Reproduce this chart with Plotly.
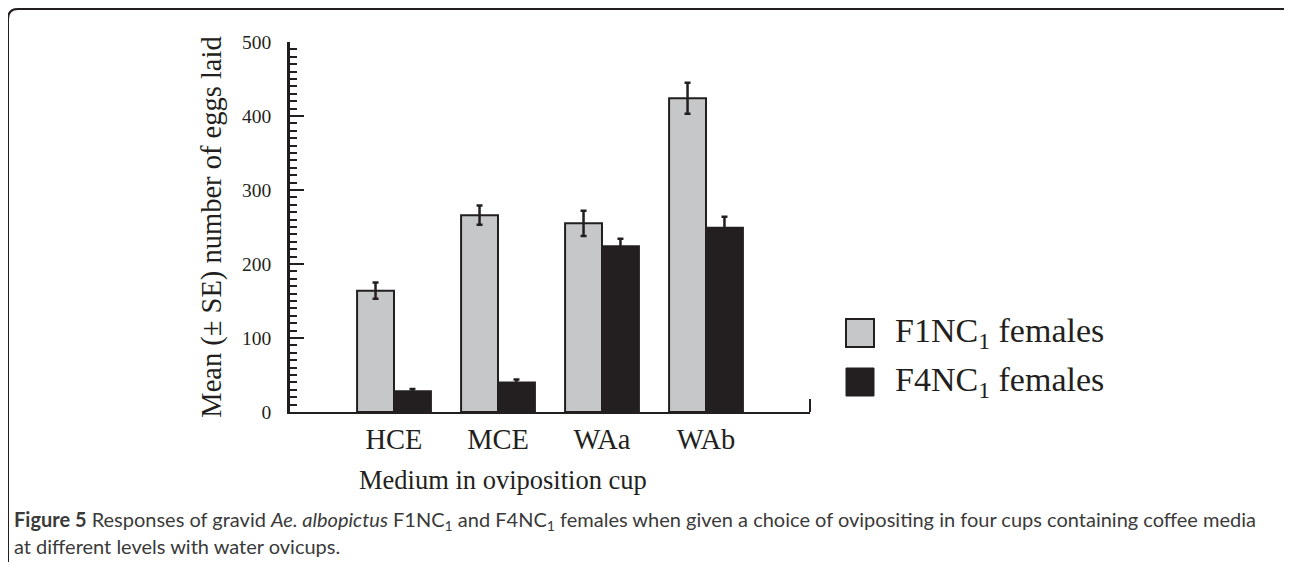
import plotly.graph_objects as go

# ---- data ----
categories = ["HCE", "MCE", "WAa", "WAb"]
f1_means = [164, 266, 255, 424]
f1_se = [11, 13, 17, 21]
f4_means = [28, 40, 224, 249]
f4_se = [3, 4, 10, 15]
series_names = ["F1NC<sub>1</sub> females", "F4NC<sub>1</sub> females"]
y_ticks = [0, 100, 200, 300, 400, 500]

# ---- geometry (page pixels; the page body adds an 8px margin) ----
OFF = 8
W, H = 1292 - OFF, 562 - OFF
L, R, T, B = 290, 810, 42, 412   # plot area in page pixels


def px(x):
    return (x - L) / (R - L)


def py(y):
    return (B - y) / (B - T)


INK = "#231f20"
GRAY = "#c6c7c9"
SERIF = "Liberation Serif"
SANS = "Lato"

fig = go.Figure()
fig.add_trace(go.Bar(
    x=categories, y=f1_means, name=series_names[0],
    marker=dict(color=GRAY, line=dict(color=INK, width=2)),
    error_y=dict(type="data", array=f1_se, color=INK, thickness=2.5, width=3),
    showlegend=False,
))
fig.add_trace(go.Bar(
    x=categories, y=f4_means, name=series_names[1],
    marker=dict(color=INK, line=dict(color=INK, width=2)),
    error_y=dict(type="data", array=f4_se, color=INK, thickness=2.5, width=3),
    showlegend=False,
))

fig.update_layout(
    width=W, height=H,
    margin=dict(l=L - OFF, r=W - (R - OFF), t=T - OFF, b=H - (B - OFF)),
    paper_bgcolor="white", plot_bgcolor="white",
    barmode="group", bargap=0.29, bargroupgap=0,
    font=dict(family=SERIF, color=INK),
    xaxis=dict(
        type="category", range=[-1, 4], showgrid=False, zeroline=False,
        showline=True, linecolor=INK, linewidth=2, ticks="",
        tickfont=dict(family=SERIF, size=28.5, color=INK),
        ticklabelstandoff=1,
    ),
    yaxis=dict(
        range=[0, 500], tickvals=y_ticks, showgrid=False, zeroline=False,
        showline=True, linecolor=INK, linewidth=2.5,
        ticks="inside", ticklen=14, tickwidth=2, tickcolor=INK,
        minor=dict(dtick=10, ticks="inside", ticklen=7, tickwidth=2, tickcolor=INK),
        tickfont=dict(family=SERIF, size=19.5, color=INK),
        ticklabelstandoff=12,
        title=dict(text="Mean (± SE) number of eggs laid",
                   font=dict(family=SERIF, size=28.5, color=INK), standoff=13),
    ),
)

shapes = []
# end tick of x axis
shapes.append(dict(type="line", xref="paper", yref="paper",
                   x0=1, x1=1, y0=0, y1=py(B - 13),
                   line=dict(color=INK, width=2)))
# legend swatches
shapes.append(dict(type="rect", xref="paper", yref="paper",
                   x0=px(846), x1=px(874), y0=py(347), y1=py(319),
                   fillcolor=GRAY, line=dict(color=INK, width=2)))
shapes.append(dict(type="rect", xref="paper", yref="paper",
                   x0=px(846), x1=px(874), y0=py(396), y1=py(368),
                   fillcolor=INK, line=dict(color=INK, width=1)))
# rounded frame (page pixels)
fl, ft, fr, fb, rad = 8, 9, 1297, 620, 10
path = (f"M {px(fl)},{py(fb)} L {px(fl)},{py(ft + rad)} "
        f"Q {px(fl)},{py(ft)} {px(fl + rad)},{py(ft)} "
        f"L {px(fr - rad)},{py(ft)} Q {px(fr)},{py(ft)} {px(fr)},{py(ft + rad)} "
        f"L {px(fr)},{py(fb)}")
shapes.append(dict(type="path", xref="paper", yref="paper", path=path,
                   line=dict(color=INK, width=2)))
fig.update_layout(shapes=shapes)

annotations = [
    dict(text=series_names[0], x=px(893), y=py(333), xref="paper", yref="paper",
         xanchor="left", yanchor="middle", showarrow=False,
         font=dict(family=SERIF, size=34, color=INK)),
    dict(text=series_names[1], x=px(893), y=py(382), xref="paper", yref="paper",
         xanchor="left", yanchor="middle", showarrow=False,
         font=dict(family=SERIF, size=34, color=INK)),
    dict(text="Medium in oviposition cup", x=px(503), y=py(480),
         xref="paper", yref="paper", xanchor="center", yanchor="middle",
         showarrow=False, font=dict(family=SERIF, size=26.5, color=INK)),
    dict(text="<b>Figure 5</b> Responses of gravid <i>Ae. albopictus</i> F1NC<sub>1</sub> and "
              "F4NC<sub>1</sub> females when given a choice of ovipositing in four cups "
              "containing coffee media",
         x=px(12), y=py(520), xref="paper", yref="paper", xanchor="left",
         yanchor="middle", showarrow=False,
         font=dict(family=SANS, size=20, color="#3a3a3a")),
    dict(text="at different levels with water ovicups.",
         x=px(12), y=py(546), xref="paper", yref="paper", xanchor="left",
         yanchor="middle", showarrow=False,
         font=dict(family=SANS, size=20, color="#3a3a3a")),
]
fig.update_layout(annotations=annotations)

fig.write_html("out.html")
